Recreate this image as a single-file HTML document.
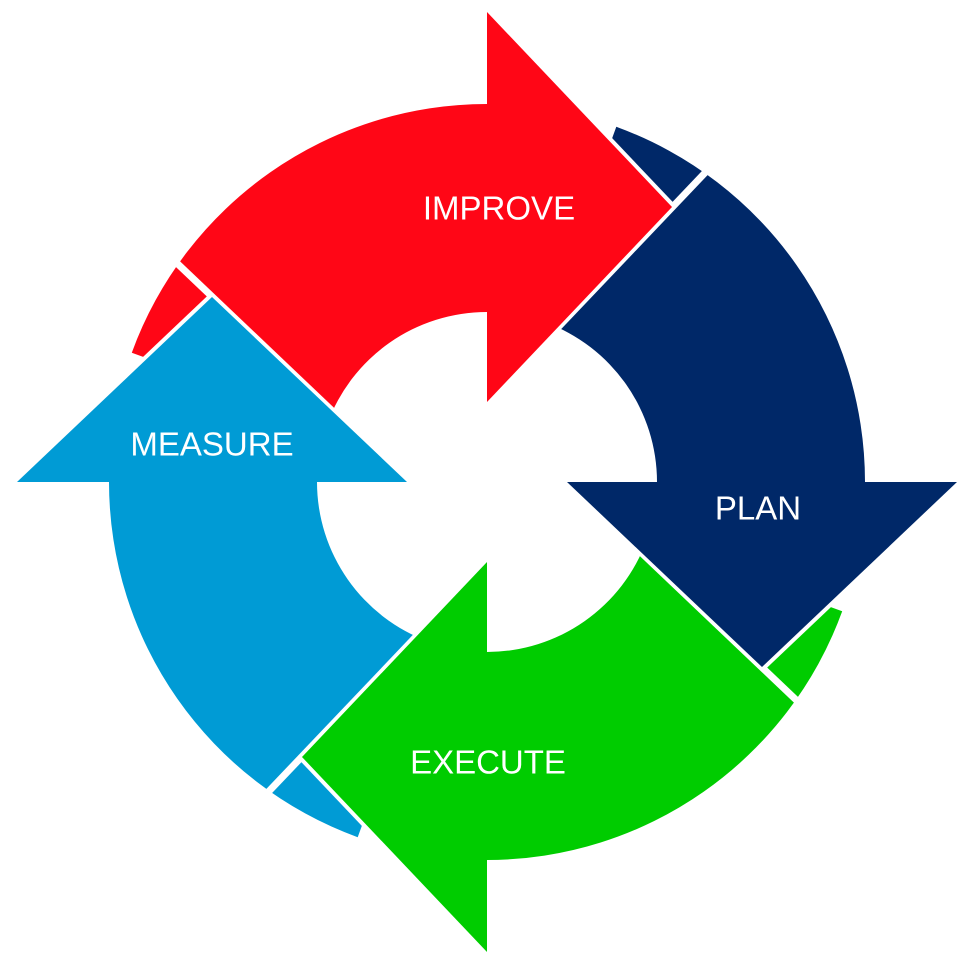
<!DOCTYPE html>
<html><head><meta charset="utf-8"><style>
html,body{margin:0;padding:0;background:#fff;}
svg{display:block}
text{font-family:"Liberation Sans",sans-serif;font-size:33px;fill:#fff;text-anchor:middle;dominant-baseline:central;}
</style></head><body>
<svg width="973" height="971" viewBox="0 0 973 971">
<defs>
<path id="body" d="M487,104 A378,378 0 0 0 131.8,352.7 L327.3,423.9 A170,170 0 0 1 487,312 Z"/>
<path id="head" d="M487,12 L672,207 L487,402 Z"/>
<path id="edge" d="M487,12 L672,207" fill="none" stroke="#fff" stroke-width="8"/>
<path id="cut" d="M487,402 L740,136" fill="none" stroke="#fff" stroke-width="7"/>
</defs>
<use href="#body" fill="#FF0616"/>
<use href="#body" fill="#002868" transform="rotate(90 487 482)"/>
<use href="#body" fill="#00CC00" transform="rotate(180 487 482)"/>
<use href="#body" fill="#009BD5" transform="rotate(270 487 482)"/>
<use href="#cut"/>
<use href="#cut" transform="rotate(90 487 482)"/>
<use href="#cut" transform="rotate(180 487 482)"/>
<use href="#cut" transform="rotate(270 487 482)"/>
<g><use href="#edge"/><use href="#head" fill="#FF0616"/></g>
<g transform="rotate(90 487 482)"><use href="#edge"/><use href="#head" fill="#002868"/></g>
<g transform="rotate(180 487 482)"><use href="#edge"/><use href="#head" fill="#00CC00"/></g>
<g transform="rotate(270 487 482)"><use href="#edge"/><use href="#head" fill="#009BD5"/></g>
<text x="499" y="208">IMPROVE</text>
<text x="758" y="508">PLAN</text>
<text x="488" y="762">EXECUTE</text>
<text x="212" y="444">MEASURE</text>
</svg>
</body></html>
